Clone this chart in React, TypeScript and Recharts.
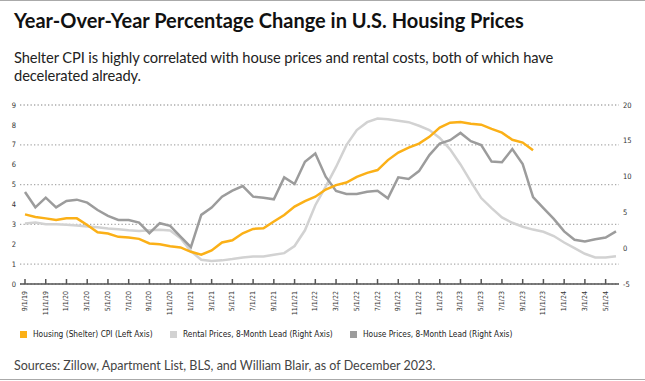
import { LineChart, Line, XAxis, YAxis, CartesianGrid } from "recharts";

const dates = [
  "9/1/19", "10/1/19", "11/1/19", "12/1/19",
  "1/1/20", "2/1/20", "3/1/20", "4/1/20", "5/1/20", "6/1/20", "7/1/20", "8/1/20", "9/1/20", "10/1/20", "11/1/20", "12/1/20",
  "1/1/21", "2/1/21", "3/1/21", "4/1/21", "5/1/21", "6/1/21", "7/1/21", "8/1/21", "9/1/21", "10/1/21", "11/1/21", "12/1/21",
  "1/1/22", "2/1/22", "3/1/22", "4/1/22", "5/1/22", "6/1/22", "7/1/22", "8/1/22", "9/1/22", "10/1/22", "11/1/22", "12/1/22",
  "1/1/23", "2/1/23", "3/1/23", "4/1/23", "5/1/23", "6/1/23", "7/1/23", "8/1/23", "9/1/23", "10/1/23", "11/1/23", "12/1/23",
  "1/1/24", "2/1/24", "3/1/24", "4/1/24", "5/1/24", "6/1/24",
];

// left axis, %
const shelterCpi = [
  3.5, 3.37, 3.3, 3.22, 3.3, 3.3, 2.97, 2.6, 2.54, 2.37, 2.34, 2.27, 2.04, 2.0, 1.9, 1.84,
  1.62, 1.47, 1.69, 2.09, 2.2, 2.55, 2.77, 2.8, 3.14, 3.47, 3.89, 4.17,
  4.39, 4.75, 4.97, 5.1, 5.39, 5.59, 5.73, 6.23, 6.61, 6.86, 7.06, 7.4,
  7.86, 8.11, 8.15, 8.06, 8.01, 7.8, 7.61, 7.25, 7.11, 6.72, null, null,
  null, null, null, null, null, null,
];

// right axis, %
const rentalPrices = [
  3.44, 3.58, 3.35, 3.35, 3.26, 3.16, 3.02, 2.93, 2.75, 2.65, 2.51, 2.42, 2.51, 2.56, 2.47, 1.4,
  -0.41, -1.61, -1.8, -1.7, -1.52, -1.29, -1.15, -1.15, -0.92, -0.69, 0.3, 2.5,
  6.0, 8.6, 11.35, 14.4, 16.5, 17.6, 18.1, 18.0, 17.8, 17.6, 17.1, 16.5,
  15.4, 13.8, 11.7, 9.3, 7.0, 5.6, 4.3, 3.55, 3.0, 2.6, 2.3, 1.7,
  0.8, 0.0, -0.78, -1.3, -1.3, -1.12,
];

const housePrices = [
  7.85, 5.71, 7.06, 5.71, 6.6, 6.78, 6.36, 5.34, 4.51, 3.95, 3.95, 3.58, 2.1, 3.49, 3.12, 1.63,
  0.15, 4.65, 5.67, 7.2, 8.03, 8.68, 7.2, 7.06, 6.83, 9.89, 8.96, 12.07,
  13.23, 9.98, 7.99, 7.57, 7.57, 7.89, 8.03, 6.97, 9.89, 9.66, 10.77, 13.0,
  14.62, 15.08, 16.1, 14.95, 14.4, 12.1, 12.0, 13.85, 11.75, 7.15, 5.6, 4.1,
  2.35, 1.17, 0.95, 1.25, 1.5, 2.35,
];

const leftTicks = [0, 1, 2, 3, 4, 5, 6, 7, 8, 9];
const rightTicks = [-5, 0, 5, 10, 15, 20];

const ORANGE = "#FBB017";
const LIGHT = "#D2D2D2";
const DARK = "#9C9C9C";

const data = dates.map((date, i) => ({
  date,
  cpi: shelterCpi[i],
  rental: rentalPrices[i],
  house: housePrices[i],
}));

const legendItems = [
  { label: "Housing (Shelter) CPI (Left Axis)", color: ORANGE, left: 20 },
  { label: "Rental Prices, 8-Month Lead (Right Axis)", color: LIGHT, left: 170 },
  { label: "House Prices, 8-Month Lead (Right Axis)", color: DARK, left: 350 },
];

const sans = "Lato, 'Noto Sans', sans-serif";
const narrow = "'Liberation Sans Narrow', 'DejaVu Sans Condensed', Roboto, sans-serif";

function DateTick({ x, y, payload }: any) {
  return (
    <g>
      <line x1={x} x2={x} y1={y - 5} y2={y} stroke="#555" strokeWidth={1.5} />
      <text
        x={x}
        y={y + 7}
        transform={`rotate(-90, ${x}, ${y + 7})`}
        textAnchor="end"
        dominantBaseline="central"
        fontSize={7}
        fontFamily={narrow}
        fill="#333"
      >
        {payload.value}
      </text>
    </g>
  );
}

export default function App() {
  return (
    <div style={{ position: "absolute", left: 0, top: 0, width: 645, height: 381, background: "#fff", fontFamily: sans, overflow: "hidden" }}>
      <div style={{ position: "absolute", left: 0, top: 0, width: 645, height: 1, background: "#aaa" }} />
      <div style={{ position: "absolute", left: 14, top: 8, fontSize: 20, fontWeight: 700, color: "#111", whiteSpace: "nowrap" }}>
        Year-Over-Year Percentage Change in U.S. Housing Prices
      </div>
      <div style={{ position: "absolute", left: 14, top: 47.5, width: 575, fontSize: 14.7, letterSpacing: -0.1, lineHeight: "18px", color: "#222" }}>
        Shelter CPI is highly correlated with house prices and rental costs, both of which have decelerated already.
      </div>

      <div style={{ position: "absolute", left: 0, top: 90 }}>
        <LineChart width={645} height={240} data={data} margin={{ top: 15, right: 0, bottom: 0, left: 0 }}>
          <CartesianGrid yAxisId="left" vertical={false} stroke="#aaa" strokeWidth={1.3} strokeDasharray="1.3 2.2" />
          <XAxis
            dataKey="date"
            interval={1}
            height={46}
            tickSize={0}
            tickMargin={0}
            tickLine={false}
            tick={<DateTick />}
            axisLine={{ stroke: "#555", strokeWidth: 1.5 }}
            padding={{ left: 5, right: 3 }}
          />
          <YAxis
            yAxisId="left"
            domain={[0, 9]}
            ticks={leftTicks}
            width={20}
            axisLine={false}
            tickLine={false}
            tickSize={0}
            tickMargin={4}
            tick={{ fontSize: 7.5, fill: "#333", fontFamily: narrow }}
          />
          <YAxis
            yAxisId="right"
            orientation="right"
            domain={[-5, 20]}
            ticks={rightTicks}
            width={26}
            axisLine={false}
            tickLine={false}
            tickSize={0}
            tickMargin={4}
            tick={{ fontSize: 7.5, fill: "#333", fontFamily: narrow }}
          />
          <Line yAxisId="right" dataKey="rental" stroke={LIGHT} strokeWidth={2.5} dot={false} isAnimationActive={false} />
          <Line yAxisId="right" dataKey="house" stroke={DARK} strokeWidth={2.5} dot={false} isAnimationActive={false} />
          <Line yAxisId="left" dataKey="cpi" stroke={ORANGE} strokeWidth={2.5} dot={false} isAnimationActive={false} />
        </LineChart>
      </div>

      {legendItems.map((it) => (
        <div key={it.label} style={{ position: "absolute", left: it.left, top: 328, height: 12, display: "flex", alignItems: "center", whiteSpace: "nowrap" }}>
          <span style={{ display: "inline-block", width: 7, height: 7, background: it.color, marginRight: 6 }} />
          <span style={{ fontSize: 8.3, fontFamily: narrow, color: "#222" }}>{it.label}</span>
        </div>
      ))}

      <div style={{ position: "absolute", left: 14, top: 358, fontSize: 12.5, color: "#444", whiteSpace: "nowrap" }}>
        Sources: Zillow, Apartment List, BLS, and William Blair, as of December 2023.
      </div>
      <div style={{ position: "absolute", left: 0, top: 379, width: 645, height: 1, background: "#aaa" }} />
    </div>
  );
}
